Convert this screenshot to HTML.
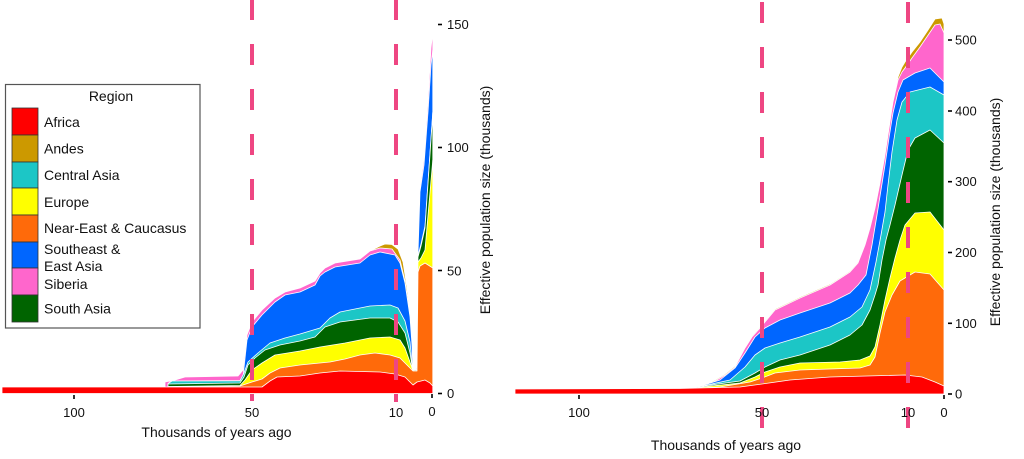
<!DOCTYPE html>
<html>
<head>
<meta charset="utf-8">
<style>
  html, body { margin:0; padding:0; background:#fff; }
  svg { display:block; }
  text { font-family: "Liberation Sans", Arial, sans-serif; fill:#111; }
</style>
</head>
<body>
<svg width="1024" height="459" viewBox="0 0 1024 459" xmlns="http://www.w3.org/2000/svg">
  <rect x="0" y="0" width="1024" height="459" fill="#fff"/>

  <!-- ================= LEFT CHART ================= -->
  <g stroke="#fff" stroke-width="0.8" stroke-linejoin="round">
    <!-- gold (Andes) -->
    <polygon fill="#cc9900" points="165,382 175,380 185,377 238,376 243,370 247,335 252,322 262,310 275,298 285,292 300,288 315,281 320,273 325,268 335,263 360,259 370,251 375,248.5 380,246 385,244 392,244.5 398,249 403,262 407,288 410,313 412,343 413,369.5 417,367.5 417.5,261 418,252 420,188 424,158 428,100 431,48 432.8,32 432.8,393.5 165,393.5"/>
    <!-- pink (Siberia) -->
    <polygon fill="#ff66cc" points="165,382 175,380 185,377 238,376 243,370 247,335 252,322 262,310 275,298 285,292 300,288 315,281 320,273 325,268 335,263 360,259 370,251 380,248 392,249 400,260 405,281 410,315 412,344 413,369.5 417,367.5 417.5,261 418,252 420,188 424,158 428,100 431,48 432.8,32 432.8,393.5 165,393.5"/>
    <!-- blue (Southeast & East Asia) -->
    <polygon fill="#0066ff" points="170,381 240,380.5 243,377 247,340 252,327 262,315 275,302 285,295 300,292 315,285 320,276 325,272 335,267 360,263 370,255 380,252 395,255 400,263 405,283 410,317 412,345 413,370 417,368 417.5,262 418,253 420,192 424,165 428,112 431,65 432.8,50 432.8,393.5 170,393.5"/>
    <!-- cyan (Central Asia) -->
    <polygon fill="#1cc6c6" points="168,383.5 172,381 240,380.8 244,373 248,362 258,353 270,343 285,338 300,334 320,328 330,318 340,312 370,306 390,305 398,308 405,321 410,342 412,363 413,370 417,369 418,256 421,244 425,226 432.8,112 432.8,393.5 168,393.5"/>
    <!-- dark green (South Asia) -->
    <polygon fill="#006400" points="168,384 240,383 244,377 248,365 255,358 265,350 280,345 300,341 315,337 325,327 340,322 370,318 390,318 398,322 405,333 410,353 412,366 413,370 417,369.5 418,257 421,246 425,228 432.8,113 432.8,393.5 168,393.5"/>
    <!-- yellow (Europe) -->
    <polygon fill="#ffff00" points="168,386.5 240,385.5 245,380 252,370 262,363 275,355 300,351 320,347 345,343 370,338 390,337 400,340 405,348 410,362 412,368 413,370.5 417,370.5 418,262 421,258 425,250 432.8,160 432.8,393.5 168,393.5"/>
    <!-- orange (Near-East & Caucasus) -->
    <polygon fill="#ff6a0a" points="168,386.8 240,386 252,382 262,379 270,373 280,368 300,365 330,362 345,359 360,355 375,353 390,355 400,358 405,363 410,368 413,371 417,371 418,272 420,266 425,263 432.8,268 432.8,393.5 168,393.5"/>
    <!-- red (Africa) -->
    <polygon fill="#ff0000" points="2,387 262,387 270,381 277,377 300,376 320,373 340,371 380,372 395,374 405,377 410,382 413,385 417,382 425,380 430,383 432.8,386 432.8,393.5 2,393.5"/>
  </g>

  <!-- left dashed lines -->
  <g stroke="#ee4682" stroke-width="4" stroke-dasharray="21 24">
    <line x1="252" y1="-1" x2="252" y2="382"/>
    <line x1="396" y1="-1" x2="396" y2="382"/>
  </g>
  <g stroke="#ee4682" stroke-width="4">
    <line x1="252" y1="394" x2="252" y2="401"/>
    <line x1="396" y1="394" x2="396" y2="402"/>
  </g>

  <!-- left ticks -->
  <g stroke="#000" stroke-width="1.6">
    <line x1="438" y1="393.5" x2="442" y2="393.5"/>
    <line x1="438" y1="270.5" x2="442" y2="270.5"/>
    <line x1="438" y1="147.5" x2="442" y2="147.5"/>
    <line x1="438" y1="24.5" x2="442" y2="24.5"/>
    <line x1="74" y1="395" x2="74" y2="399"/>
    <line x1="432" y1="394" x2="432" y2="398"/>
  </g>
  <g font-size="13">
    <text x="447" y="398">0</text>
    <text x="447" y="275.5">50</text>
    <text x="447" y="152">100</text>
    <text x="447" y="29">150</text>
  </g>
  <g font-size="13" text-anchor="middle">
    <text x="74" y="417">100</text>
    <text x="252" y="417">50</text>
    <text x="396" y="417">10</text>
    <text x="432" y="416">0</text>
  </g>
  <text x="216.5" y="437" font-size="14" text-anchor="middle">Thousands of years ago</text>
  <text transform="translate(490,200) rotate(-90)" font-size="14" text-anchor="middle">Effective population size (thousands)</text>

  <!-- legend -->
  <rect x="5.5" y="84.5" width="194.5" height="243.5" fill="#fff" stroke="#555" stroke-width="1.2"/>
  <text x="111" y="101" font-size="14" text-anchor="middle">Region</text>
  <g stroke="#333" stroke-width="0.8">
    <rect x="12" y="108" width="26" height="27" fill="#ff0000"/>
    <rect x="12" y="135" width="26" height="27" fill="#cc9900"/>
    <rect x="12" y="162" width="26" height="26" fill="#1cc6c6"/>
    <rect x="12" y="188" width="26" height="27" fill="#ffff00"/>
    <rect x="12" y="215" width="26" height="27" fill="#ff6a0a"/>
    <rect x="12" y="242" width="26" height="26" fill="#0066ff"/>
    <rect x="12" y="268" width="26" height="27" fill="#ff66cc"/>
    <rect x="12" y="295" width="26" height="27" fill="#006400"/>
  </g>
  <g font-size="14">
    <text x="44" y="127">Africa</text>
    <text x="44" y="153.5">Andes</text>
    <text x="44" y="180">Central Asia</text>
    <text x="44" y="207">Europe</text>
    <text x="44" y="233">Near-East &amp; Caucasus</text>
    <text x="44" y="254">Southeast &amp;</text>
    <text x="44" y="271">East Asia</text>
    <text x="44" y="289">Siberia</text>
    <text x="44" y="313.5">South Asia</text>
  </g>

  <!-- ================= RIGHT CHART ================= -->
  <g stroke="#fff" stroke-width="0.8" stroke-linejoin="round">
    <polygon fill="#cc9900" points="705,387 710,383 725,374 735,366 745,347 752,336 760,327 775,309 800,297 830,284 850,271 858,262 865,244 870,227 875,207 880,182 885,154 888,134 893,100 898,77 902,67 905,62 912,52 920,42 928,30 935,19 942,18 944,24 944,394 705,394"/>
    <polygon fill="#ff66cc" points="705,387.5 710,384 725,375 735,367 745,348 752,337 760,328 775,310 800,298 830,285 850,272 858,263 865,245 870,228 875,208 880,183 885,155 888,135 893,102 898,80 902,72 905,68 912,58 920,47 935,25 940,24 944,33 944,394 705,394"/>
    <polygon fill="#0066ff" points="700,386.3 720,380 735,368 745,353 755,337 765,328 780,320 800,313 830,303 850,293 858,285 866,275 872,245 877,215 881,190 885,165 889,138 893,113 898,92 903,80 915,73 930,68 944,82 944,394 700,394"/>
    <polygon fill="#1cc6c6" points="690,387.8 700,386.5 730,380 745,367 755,355 765,348 780,343 800,337 830,327 850,317 862,307 870,290 876,262 881,235 885,212 888,185 892,152 897,120 902,102 910,92 930,87 944,95 944,394 690,394"/>
    <polygon fill="#006400" points="690,388 740,381 755,373 765,367 780,360 800,355 830,345 850,335 862,325 870,310 875,295 878,285 882,260 886,240 890,225 895,205 902,175 908,150 915,138 930,130 944,143 944,394 690,394"/>
    <polygon fill="#ffff00" points="690,388.3 740,383 755,377 765,372 780,367 800,363 840,362 860,360 870,356 875,347 880,325 885,300 890,278 895,258 900,240 905,225 915,213 930,212 944,230 944,394 690,394"/>
    <polygon fill="#ff6a0a" points="690,388.5 720,387 750,382 762,378 775,373 800,370 860,368 870,365 875,357 880,333 885,312 892,295 900,281 915,272 930,274 944,290 944,394 690,394"/>
    <polygon fill="#ff0000" points="515,389 680,388.5 740,387 762,384 790,380 830,377 905,375 922,377 935,382 944,386 944,394 515,394"/>
  </g>

  <!-- right dashed lines -->
  <g stroke="#ee4682" stroke-width="4" stroke-dasharray="21 24">
    <line x1="762" y1="2" x2="762" y2="430"/>
    <line x1="908" y1="2" x2="908" y2="430"/>
  </g>

  <!-- right ticks -->
  <g stroke="#000" stroke-width="1.6">
    <line x1="948" y1="394" x2="952" y2="394"/>
    <line x1="948" y1="323.3" x2="952" y2="323.3"/>
    <line x1="948" y1="252.5" x2="952" y2="252.5"/>
    <line x1="948" y1="181.7" x2="952" y2="181.7"/>
    <line x1="948" y1="111" x2="952" y2="111"/>
    <line x1="948" y1="40" x2="952" y2="40"/>
    <line x1="579" y1="395" x2="579" y2="399"/>
    <line x1="944" y1="395" x2="944" y2="399"/>
  </g>
  <g font-size="13">
    <text x="955" y="398.5">0</text>
    <text x="955" y="328">100</text>
    <text x="955" y="257">200</text>
    <text x="955" y="186.2">300</text>
    <text x="955" y="115.5">400</text>
    <text x="955" y="44.5">500</text>
  </g>
  <g font-size="13" text-anchor="middle">
    <text x="579" y="417">100</text>
    <text x="762" y="417">50</text>
    <text x="908" y="417">10</text>
    <text x="944" y="417">0</text>
  </g>
  <text x="726" y="450" font-size="14" text-anchor="middle">Thousands of years ago</text>
  <text transform="translate(1000,212) rotate(-90)" font-size="14" text-anchor="middle">Effective population size (thousands)</text>
</svg>
</body>
</html>
